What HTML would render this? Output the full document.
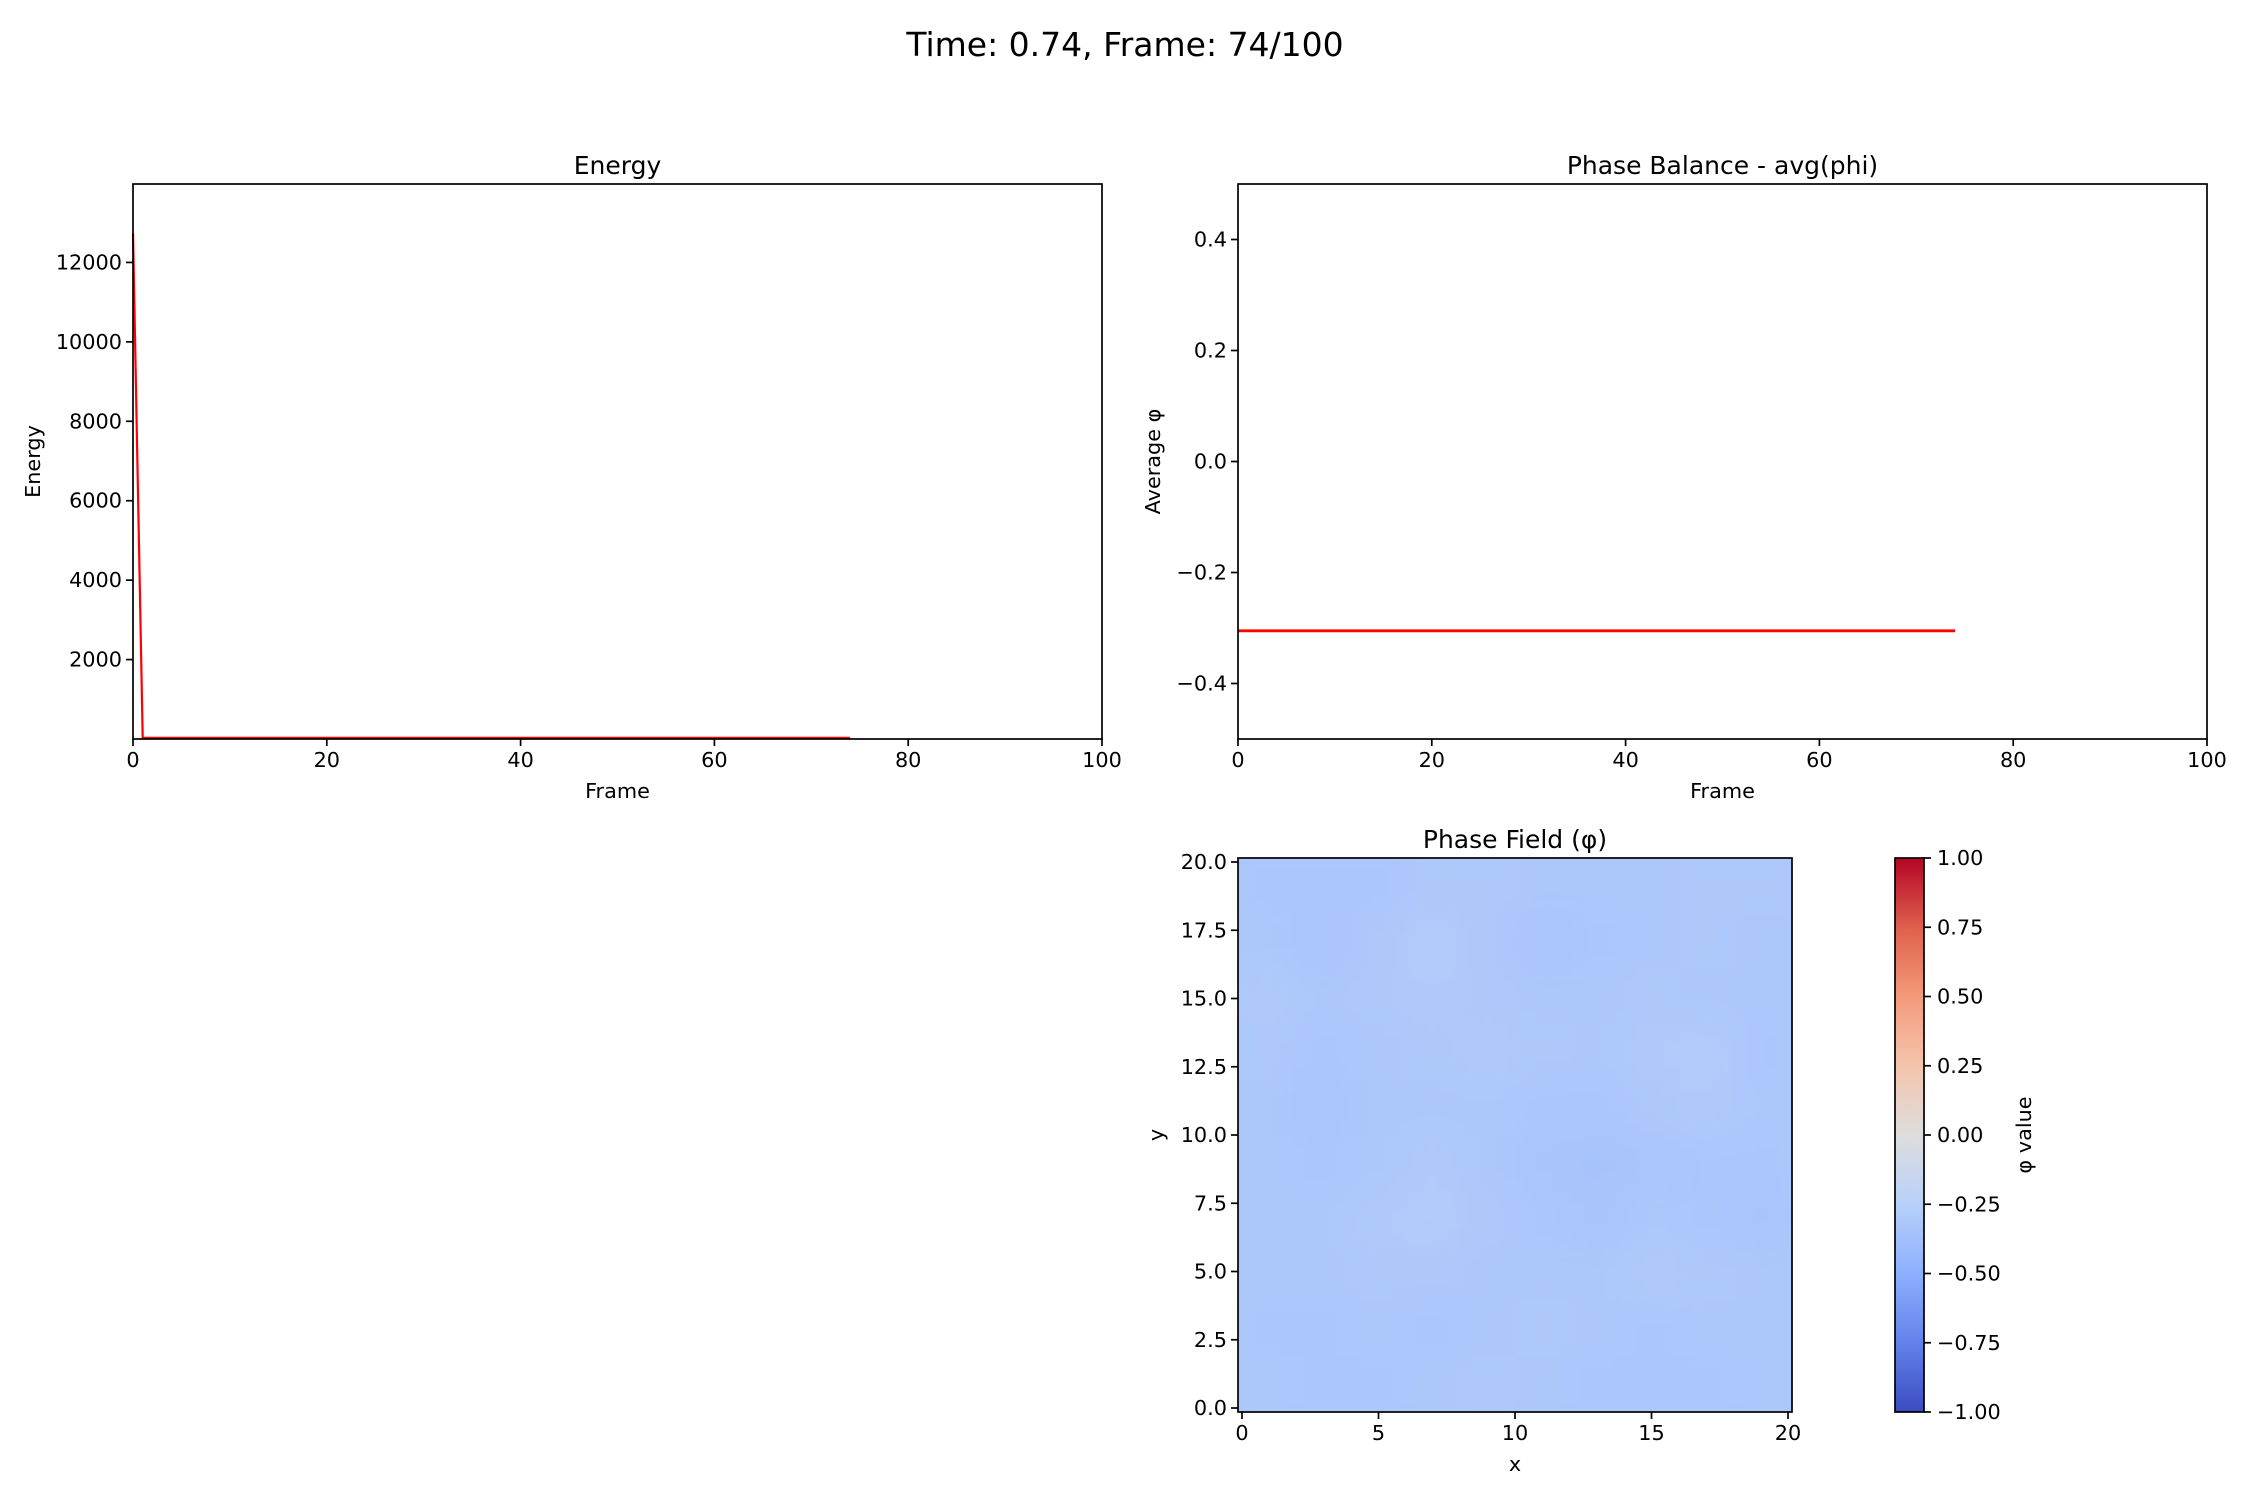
<!DOCTYPE html>
<html><head><meta charset="utf-8"><style>
html,body{margin:0;padding:0;background:#fff;}
svg{display:block;font-family:"DejaVu Sans","Liberation Sans",sans-serif;}
</style></head><body>
<svg id="fig" width="2250" height="1500" viewBox="0 0 2250 1500" xmlns="http://www.w3.org/2000/svg">
<rect width="2250" height="1500" fill="#fff"/>
<text x="1125" y="56" font-size="33" text-anchor="middle">Time: 0.74, Frame: 74/100</text>
<g id="energy"></g>
<g id="phase"></g>
<g id="field"></g>
</svg>
<script>
const energyFrames = [0, 1, 74];
const energyValues = [12730, 30, 30];
const energyYTicks = [2000, 4000, 6000, 8000, 10000, 12000];
const frameTicks = [0, 20, 40, 60, 80, 100];
const phaseFrames = [0, 74];
const phaseValues = [-0.305, -0.305];
const phaseYTicks = [0.4, 0.2, 0.0, -0.2, -0.4];
const phaseYLabels = ["0.4", "0.2", "0.0", "\u22120.2", "\u22120.4"];
const fieldTicks = [0, 5, 10, 15, 20];
const fieldYTicks = [0, 2.5, 5, 7.5, 10, 12.5, 15, 17.5, 20];
const cbarTicks = [1, 0.75, 0.5, 0.25, 0, -0.25, -0.5, -0.75, -1];
// phi grid, rows from top (y=20) to bottom (y=0), 10x10
const phiGrid = [
 [-0.33,-0.33,-0.33,-0.31,-0.31,-0.32,-0.32,-0.32,-0.31,-0.31],
 [-0.32,-0.34,-0.31,-0.29,-0.31,-0.34,-0.33,-0.32,-0.31,-0.32],
 [-0.30,-0.32,-0.31,-0.30,-0.31,-0.32,-0.32,-0.31,-0.32,-0.32],
 [-0.31,-0.33,-0.32,-0.31,-0.30,-0.31,-0.32,-0.30,-0.29,-0.33],
 [-0.32,-0.34,-0.32,-0.32,-0.32,-0.33,-0.33,-0.31,-0.30,-0.32],
 [-0.32,-0.33,-0.32,-0.30,-0.32,-0.34,-0.35,-0.34,-0.33,-0.33],
 [-0.32,-0.32,-0.30,-0.29,-0.31,-0.33,-0.34,-0.32,-0.33,-0.34],
 [-0.32,-0.32,-0.31,-0.31,-0.32,-0.32,-0.32,-0.30,-0.31,-0.32],
 [-0.33,-0.33,-0.32,-0.33,-0.32,-0.31,-0.32,-0.33,-0.32,-0.32],
 [-0.32,-0.33,-0.33,-0.32,-0.31,-0.32,-0.33,-0.33,-0.33,-0.32]
];
const NS="http://www.w3.org/2000/svg";
function mk(parent,tag,attrs,text){const e=document.createElementNS(NS,tag);for(const k in attrs)e.setAttribute(k,attrs[k]);if(text!==undefined)e.textContent=text;parent.appendChild(e);return e;}
const FS=20.8;
const cw=[[0,[59,76,192]],[0.125,[98,130,234]],[0.25,[141,176,254]],[0.375,[184,208,249]],[0.5,[221,221,221]],[0.625,[245,196,173]],[0.75,[244,154,123]],[0.875,[222,96,77]],[1,[180,4,38]]];
function coolwarm(t){t=Math.max(0,Math.min(1,t));for(let i=1;i<cw.length;i++){if(t<=cw[i][0]){const a=cw[i-1],b=cw[i];const f=(t-a[0])/(b[0]-a[0]);const c=a[1].map((v,j)=>Math.round(v+(b[1][j]-v)*f));return `rgb(${c[0]},${c[1]},${c[2]})`;}}return 'rgb(180,4,38)';}

(function(){
 const g=document.getElementById('energy');
 const L=133,R=1102,T=184,B=739,ymin=0,ymax=13975;
 const xs=v=>L+(v-0)/100*(R-L), ys=v=>B-(v-ymin)/(ymax-ymin)*(B-T);
 let d=energyFrames.map((f,i)=>(i?'L':'M')+xs(f).toFixed(1)+','+ys(energyValues[i]).toFixed(1)).join(' ');
 const ln=mk(g,'path',{d:d,fill:'none',stroke:'#ff0000','stroke-width':2.2});
 
 
 const fr=mk(g,'rect',{x:L,y:T,width:R-L,height:B-T,fill:'none',stroke:'#000','stroke-width':1.7});
 
 
 frameTicks.forEach(v=>{const x=xs(v);mk(g,'line',{x1:x,x2:x,y1:B,y2:B+7,stroke:'#000','stroke-width':1.7});
  const t=mk(g,'text',{x:x,y:B+28,'font-size':FS,'text-anchor':'middle'},String(v));
  
  });
 energyYTicks.forEach(v=>{const y=ys(v);mk(g,'line',{x1:L-7,x2:L,y1:y,y2:y,stroke:'#000','stroke-width':1.7});
  const t=mk(g,'text',{x:L-11,y:y+7,'font-size':FS,'text-anchor':'end'},String(v));
  
  });
 const tt=mk(g,'text',{x:(L+R)/2,y:T-10,'font-size':25,'text-anchor':'middle'},'Energy');
 
 
 const xl=mk(g,'text',{x:(L+R)/2,y:798,'font-size':FS,'text-anchor':'middle'},'Frame');
 
 
 const yl=mk(g,'text',{x:0,y:0,'font-size':FS,'text-anchor':'middle',transform:`translate(40,${(T+B)/2}) rotate(-90)`},'Energy');
 
 
})();

(function(){
 const g=document.getElementById('phase');
 const L=1238,R=2207,T=184,B=739,ymin=-0.5,ymax=0.5;
 const xs=v=>L+v/100*(R-L), ys=v=>B-(v-ymin)/(ymax-ymin)*(B-T);
 let d=phaseFrames.map((f,i)=>(i?'L':'M')+xs(f).toFixed(1)+','+ys(phaseValues[i]).toFixed(1)).join(' ');
 const ln=mk(g,'path',{d:d,fill:'none',stroke:'#ff0000','stroke-width':2.8});
 
 
 const fr=mk(g,'rect',{x:L,y:T,width:R-L,height:B-T,fill:'none',stroke:'#000','stroke-width':1.7});
 
 
 frameTicks.forEach(v=>{const x=xs(v);mk(g,'line',{x1:x,x2:x,y1:B,y2:B+7,stroke:'#000','stroke-width':1.7});
  const t=mk(g,'text',{x:x,y:B+28,'font-size':FS,'text-anchor':'middle'},String(v));
  
  });
 phaseYTicks.forEach((v,i)=>{const y=ys(v);mk(g,'line',{x1:L-7,x2:L,y1:y,y2:y,stroke:'#000','stroke-width':1.7});
  const t=mk(g,'text',{x:L-11,y:y+7,'font-size':FS,'text-anchor':'end'},phaseYLabels[i]);
  
  });
 const tt=mk(g,'text',{x:(L+R)/2,y:T-10,'font-size':25,'text-anchor':'middle'},'Phase Balance - avg(phi)');
 
 
 const xl=mk(g,'text',{x:(L+R)/2,y:798,'font-size':FS,'text-anchor':'middle'},'Frame');
 
 
 const yl=mk(g,'text',{x:0,y:0,'font-size':FS,'text-anchor':'middle',transform:`translate(1160,${(T+B)/2}) rotate(-90)`},'Average \u03c6');
 
 
})();

(function(){
 const g=document.getElementById('field');
 const L=1238,R=1792,T=858,B=1412;
 const x0=1242,y0=1408,unit=27.3;
 const xs=v=>x0+v*unit, ys=v=>y0-v*unit;
 const defs=mk(g,'defs',{});
 const clip=mk(defs,'clipPath',{id:'fieldclip'});
 mk(clip,'rect',{x:L,y:T,width:R-L,height:B-T});
 const flt=mk(defs,'filter',{id:'blur',x:'-10%',y:'-10%',width:'120%',height:'120%'});
 mk(flt,'feGaussianBlur',{stdDeviation:18,edgeMode:'duplicate'});
 const outer=mk(g,'g',{'clip-path':'url(#fieldclip)'});
 const cells=mk(outer,'g',{filter:'url(#blur)'});
 const n=phiGrid.length, cw_=(R-L)/n, ch=(B-T)/n;
 mk(cells,'rect',{x:L-40,y:T-40,width:R-L+80,height:B-T+80,fill:coolwarm((-0.32+1)/2)});
 phiGrid.forEach((row,r)=>row.forEach((v,c)=>{
  const cell=mk(cells,'rect',{x:L+c*cw_,y:T+r*ch,width:cw_+0.6,height:ch+0.6,fill:coolwarm((v+1)/2)});
  
  
 }));
 const fr=mk(g,'rect',{x:L,y:T,width:R-L,height:B-T,fill:'none',stroke:'#000','stroke-width':1.7});
 
 
 fieldTicks.forEach(v=>{const x=xs(v);mk(g,'line',{x1:x,x2:x,y1:B,y2:B+7,stroke:'#000','stroke-width':1.7});
  const t=mk(g,'text',{x:x,y:B+28,'font-size':FS,'text-anchor':'middle'},String(v));
  
  });
 fieldYTicks.forEach(v=>{const y=ys(v);mk(g,'line',{x1:L-7,x2:L,y1:y,y2:y,stroke:'#000','stroke-width':1.7});
  const t=mk(g,'text',{x:L-11,y:y+7,'font-size':FS,'text-anchor':'end'},v.toFixed(1));
  
  });
 const tt=mk(g,'text',{x:(L+R)/2,y:T-10,'font-size':25,'text-anchor':'middle'},'Phase Field (\u03c6)');
 
 
 const xl=mk(g,'text',{x:(L+R)/2,y:1471,'font-size':FS,'text-anchor':'middle'},'x');
 
 
 const yl=mk(g,'text',{x:0,y:0,'font-size':FS,'text-anchor':'middle',transform:`translate(1163,${(T+B)/2}) rotate(-90)`},'y');
 
 
 const CL=1895,CR=1924;
 const lg=mk(defs,'linearGradient',{id:'cwgrad',x1:0,y1:1,x2:0,y2:0});
 for(let i=0;i<=16;i++){mk(lg,'stop',{offset:(i/16),'stop-color':coolwarm(i/16)});}
 const cb=mk(g,'rect',{x:CL,y:T,width:CR-CL,height:B-T,fill:'url(#cwgrad)',stroke:'#000','stroke-width':1.7});
 
 
 const cys=v=>B-(v+1)/2*(B-T);
 cbarTicks.forEach(v=>{const y=cys(v);mk(g,'line',{x1:CR,x2:CR+7,y1:y,y2:y,stroke:'#000','stroke-width':1.7});
  const t=mk(g,'text',{x:CR+13,y:y+7,'font-size':FS,'text-anchor':'start'},(v<0?'\u2212':'')+Math.abs(v).toFixed(2));
  
  });
 const cl=mk(g,'text',{x:0,y:0,'font-size':FS,'text-anchor':'middle',transform:`translate(2031,${(T+B)/2}) rotate(-90)`},'\u03c6 value');
 
 
})();
</script>
</body></html>
